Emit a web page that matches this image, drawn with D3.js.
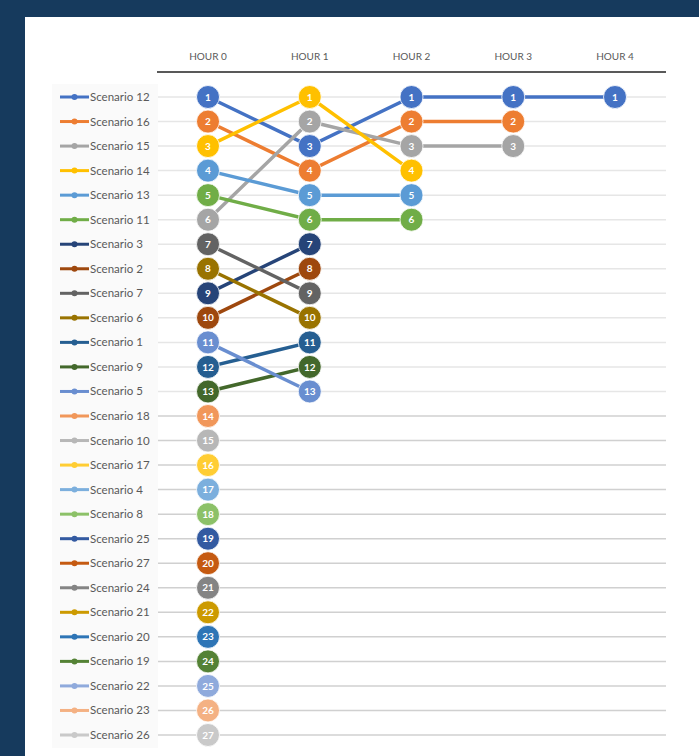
<!DOCTYPE html>
<head>
  <meta charset="utf-8">
  <title>Scenario ranking</title>
  <style>
    body { margin: 0; background: #163a5d; }
    text { font-family: Lato, "Open Sans", sans-serif; }
  </style>
</head>
<body>
  <div id="chart"></div>
  <script src="https://cdn.jsdelivr.net/npm/d3@7"></script>
  <script>
    var width = 699, height = 756;

    // legend / series order
    var scenarios = ["Scenario 12", "Scenario 16", "Scenario 15", "Scenario 14", "Scenario 13", "Scenario 11",
      "Scenario 3", "Scenario 2", "Scenario 7", "Scenario 6", "Scenario 1", "Scenario 9", "Scenario 5",
      "Scenario 18", "Scenario 10", "Scenario 17", "Scenario 4", "Scenario 8", "Scenario 25", "Scenario 27",
      "Scenario 24", "Scenario 21", "Scenario 20", "Scenario 19", "Scenario 22", "Scenario 23", "Scenario 26"];

    var colors = ["#4472c4", "#ed7d31", "#a5a5a5", "#ffc000", "#5b9bd5", "#70ad47",
      "#264478", "#9e480e", "#636363", "#997300", "#255e91", "#43682b", "#698ed0",
      "#f1975a", "#b7b7b7", "#ffcd33", "#7cafdd", "#8cc168", "#335aa1", "#c55a11",
      "#848484", "#cc9a00", "#2e75b6", "#548235", "#8faadc", "#f4b183", "#c9c9c9"];

    var hours = ["HOUR 0", "HOUR 1", "HOUR 2", "HOUR 3", "HOUR 4"];

    // rank of each scenario per hour (null = not ranked)
    var ranks = [
      [1, 3, 1, 1, 1],
      [2, 4, 2, 2, null],
      [6, 2, 3, 3, null],
      [3, 1, 4, null, null],
      [4, 5, 5, null, null],
      [5, 6, 6, null, null],
      [9, 7, null, null, null],
      [10, 8, null, null, null],
      [7, 9, null, null, null],
      [8, 10, null, null, null],
      [12, 11, null, null, null],
      [13, 12, null, null, null],
      [11, 13, null, null, null],
      [14, null, null, null, null],
      [15, null, null, null, null],
      [16, null, null, null, null],
      [17, null, null, null, null],
      [18, null, null, null, null],
      [19, null, null, null, null],
      [20, null, null, null, null],
      [21, null, null, null, null],
      [22, null, null, null, null],
      [23, null, null, null, null],
      [24, null, null, null, null],
      [25, null, null, null, null],
      [26, null, null, null, null],
      [27, null, null, null, null]
    ];

    var svg = d3.select("#chart").append("svg")
        .attr("width", width)
        .attr("height", height);

    // white card
    svg.append("rect")
        .attr("x", 25).attr("y", 17)
        .attr("width", width - 25).attr("height", height - 17)
        .attr("fill", "#fff");

    var x = d3.scalePoint().domain(hours).range([208, 615]);
    var y = d3.scaleLinear().domain([1, 27]).range([97, 735]);
    var rows = d3.range(1, 28);

    // legend box
    svg.append("rect")
        .attr("x", 52).attr("y", 84)
        .attr("width", 106).attr("height", 664)
        .attr("fill", "#fafafa");

    // grid lines
    svg.append("g").selectAll("line")
      .data(rows)
      .enter().append("line")
        .attr("x1", 158).attr("x2", 666)
        .attr("y1", function(d) { return y(d); })
        .attr("y2", function(d) { return y(d); })
        .attr("stroke", function(d) { return d > 13 ? "#d0d0d0" : "#e6e6e6"; })
        .attr("stroke-width", 1.5);

    // header
    svg.append("g").selectAll("text")
      .data(hours)
      .enter().append("text")
        .attr("x", function(d) { return x(d); })
        .attr("y", 60)
        .attr("text-anchor", "middle")
        .attr("font-size", 10)
        .attr("fill", "#595959")
        .text(function(d) { return d; });

    svg.append("line")
        .attr("x1", 157).attr("x2", 666)
        .attr("y1", 72).attr("y2", 72)
        .attr("stroke", "#595959")
        .attr("stroke-width", 2.2);

    var series = scenarios.map(function(name, i) {
      return {
        name: name,
        color: colors[i],
        points: hours.map(function(h, j) { return { hour: h, rank: ranks[i][j] }; })
          .filter(function(p) { return p.rank != null; })
      };
    });

    var line = d3.line()
        .x(function(p) { return x(p.hour); })
        .y(function(p) { return y(p.rank); });

    var g = svg.append("g");

    g.selectAll("path")
      .data(series)
      .enter().append("path")
        .attr("d", function(d) { return line(d.points); })
        .attr("fill", "none")
        .attr("stroke", function(d) { return d.color; })
        .attr("stroke-width", 3.5);

    var dots = g.selectAll(".dot")
      .data(series.flatMap(function(s) {
        return s.points.map(function(p) { return { color: s.color, hour: p.hour, rank: p.rank }; });
      }))
      .enter().append("g")
        .attr("class", "dot")
        .attr("transform", function(d) { return "translate(" + x(d.hour) + "," + y(d.rank) + ")"; });

    dots.append("circle")
        .attr("r", 11.5)
        .attr("fill", function(d) { return d.color; })
        .attr("stroke", "#fff")
        .attr("stroke-width", 0.8);

    dots.append("text")
        .attr("text-anchor", "middle")
        .attr("dy", "0.36em")
        .attr("font-size", 10)
        .attr("font-weight", "bold")
        .attr("fill", "#fff")
        .text(function(d) { return d.rank; });

    // legend
    var leg = svg.append("g").selectAll("g")
      .data(series)
      .enter().append("g")
        .attr("transform", function(d, i) { return "translate(0," + y(i + 1) + ")"; });

    leg.append("line")
        .attr("x1", 60).attr("x2", 89)
        .attr("stroke", function(d) { return d.color; })
        .attr("stroke-width", 3);

    leg.append("circle")
        .attr("cx", 74.5).attr("r", 3)
        .attr("fill", function(d) { return d.color; });

    leg.append("text")
        .attr("x", 90)
        .attr("dy", "0.35em")
        .attr("font-size", 11.5)
        .attr("fill", "#595959")
        .text(function(d) { return d.name; });
  </script>
</body>
